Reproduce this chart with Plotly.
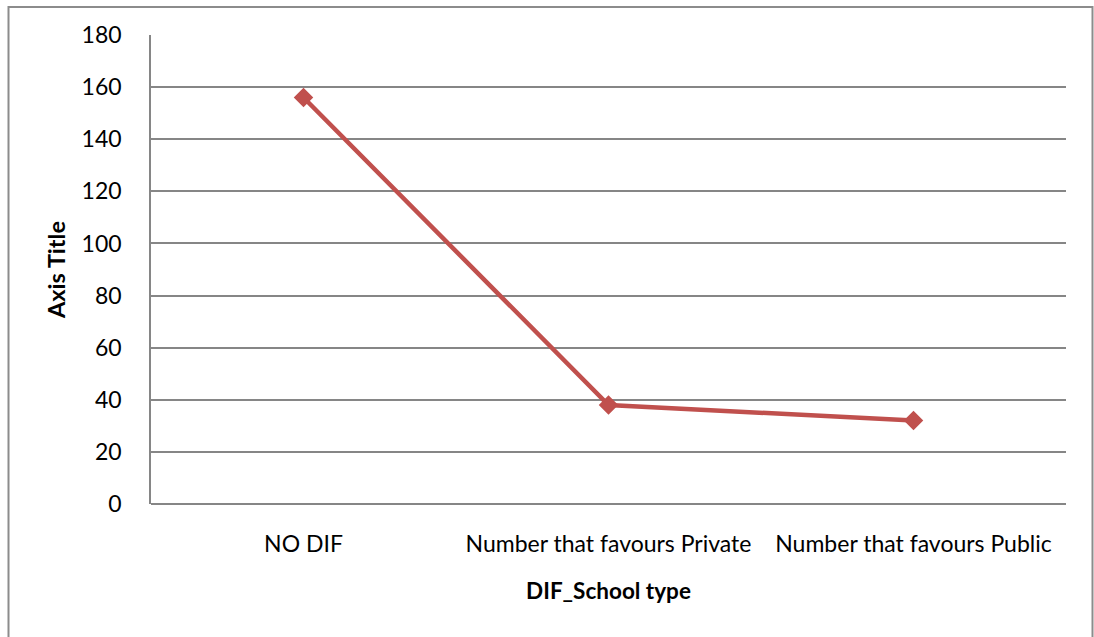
import plotly.graph_objects as go

# Category labels and counts per DIF category
categories = ["NO DIF", "Number that favours Private", "Number that favours Public"]
counts = [156, 38, 32]
y_ticks = [0, 20, 40, 60, 80, 100, 120, 140, 160, 180]

W, H = 1094, 637
L, R, T, B = 151, 28, 35, 133
pw, ph = W - L - R, H - T - B

def px_x(x):
    return (x - L) / pw

def px_y(y):
    return (H - B - y) / ph

FONT = "Lato"
GRID = "#868686"
RED = "#C0504D"

fig = go.Figure()
fig.add_trace(go.Scatter(
    x=categories, y=counts, mode="lines+markers",
    line=dict(color=RED, width=4.5),
    marker=dict(symbol="diamond", size=15, color=RED),
    showlegend=False, hoverinfo="x+y",
))

fig.update_layout(
    width=W, height=H,
    margin=dict(l=L, r=R, t=T, b=B, pad=0),
    paper_bgcolor="white", plot_bgcolor="white",
    font=dict(family=FONT, size=23, color="#000000"),
    xaxis=dict(
        type="category", range=[-0.5, 2.5],
        showgrid=False, zeroline=False,
        showline=False, ticks="",
        ticklabelstandoff=24,
        tickfont=dict(family=FONT, size=23),
        title=dict(text="<b>DIF_School type</b>", font=dict(family=FONT, size=22.5), standoff=27),
    ),
    yaxis=dict(
        range=[0, 180], tickvals=y_ticks,
        showgrid=True, gridcolor=GRID, gridwidth=1.5,
        zeroline=True, zerolinecolor=GRID, zerolinewidth=1.5,
        showline=True, linecolor=GRID, linewidth=1.5,
        ticks="", ticklabelstandoff=23,
        tickfont=dict(family=FONT, size=23),
        title=dict(text="<b>Axis Title</b>", font=dict(family=FONT, size=23.5), standoff=9),
    ),
    shapes=[dict(
        type="rect", xref="paper", yref="paper",
        x0=px_x(8.5), x1=px_x(1092.5), y0=px_y(645), y1=px_y(7),
        line=dict(color="#8C8C8C", width=2), fillcolor="rgba(0,0,0,0)", layer="below",
    )],
)

fig.write_html("out.html")
